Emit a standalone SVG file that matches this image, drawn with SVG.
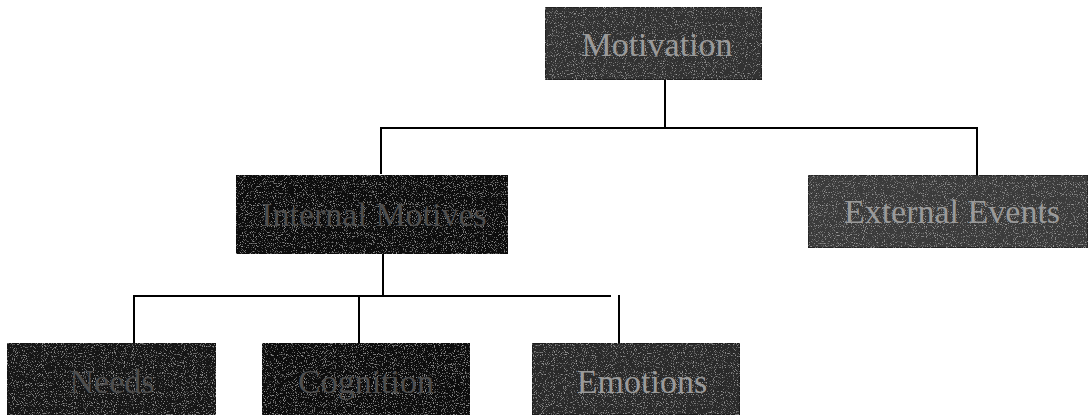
<svg xmlns="http://www.w3.org/2000/svg" width="1091" height="415" viewBox="0 0 1091 415">
  <defs>
    <!-- sparse speckled grain laid over the dark box fills -->
    <filter id="grain" x="0" y="0" width="100%" height="100%">
      <feTurbulence type="fractalNoise" baseFrequency="0.9" numOctaves="2" seed="3" result="noise"/>
      <feColorMatrix in="noise" type="matrix" values="0 0 0 0 0.6  0 0 0 0 0.6  0 0 0 0 0.6  0 0 0 -5 2.1" result="speck"/>
      <feComponentTransfer in="speck" result="speckSoft">
        <feFuncA type="linear" slope="0.5"/>
      </feComponentTransfer>
      <feComposite in="speckSoft" in2="SourceGraphic" operator="in" result="speckIn"/>
      <feMerge>
        <feMergeNode in="SourceGraphic"/>
        <feMergeNode in="speckIn"/>
      </feMerge>
    </filter>
  </defs>
  <style>
    .box { stroke: #111; stroke-width: 1; filter: url(#grain); }
    .lbl { font-family: "Liberation Serif", "Times New Roman", serif; font-size: 34px; text-anchor: middle; fill: #9a9a9a; }
    .lbl.dim { fill: #4e4e4e; }
    .wire { stroke: #000; stroke-width: 2; fill: none; }
  </style>
  <rect width="1091" height="415" fill="#fff"/>

  <g id="connectors">
    <path class="wire" d="M665 80 V128"/>
    <path class="wire" d="M381 174 V128 H977 V175"/>
    <path class="wire" d="M383 254 V296"/>
    <path class="wire" d="M134 343 V296 H611"/>
    <path class="wire" d="M359 296 V343"/>
    <path class="wire" d="M619 295 V343"/>
  </g>

  <g id="motivation">
    <rect class="box" x="545" y="7" width="217" height="73" fill="#303030"/>
    <text class="lbl" x="657" y="56">Motivation</text>
  </g>

  <g id="internal-motives">
    <rect class="box" x="236" y="175" width="272" height="79" fill="#080808"/>
    <text class="lbl dim" x="374" y="226">Internal Motives</text>
  </g>

  <g id="external-events">
    <rect class="box" x="808" y="175" width="280" height="73" fill="#3a3a3a"/>
    <text class="lbl" x="952" y="223">External Events</text>
  </g>

  <g id="needs">
    <rect class="box" x="7" y="343" width="209" height="72" fill="#141414"/>
    <text class="lbl dim" x="112" y="393">Needs</text>
  </g>

  <g id="cognition">
    <rect class="box" x="262" y="343" width="208" height="72" fill="#0c0c0c"/>
    <text class="lbl dim" x="366" y="393">Cognition</text>
  </g>

  <g id="emotions">
    <rect class="box" x="532" y="343" width="208" height="72" fill="#2a2a2a"/>
    <text class="lbl" x="642" y="393">Emotions</text>
  </g>
</svg>
